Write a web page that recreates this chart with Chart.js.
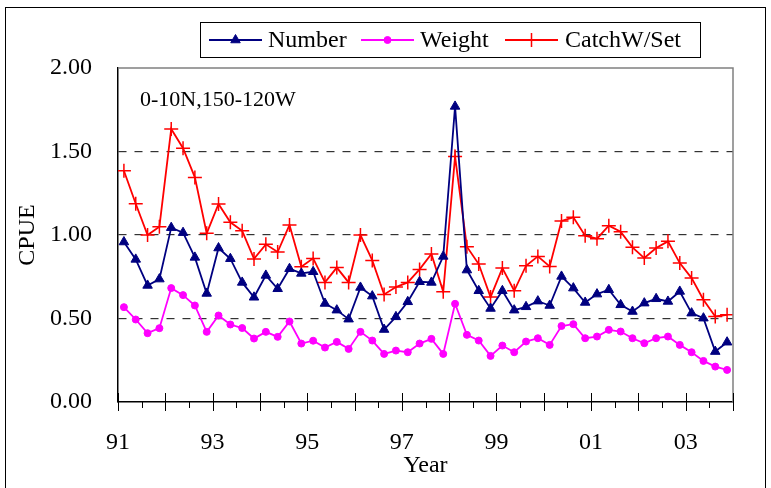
<!DOCTYPE html>
<html>
<head>
<meta charset="utf-8">
<script src="https://cdn.jsdelivr.net/npm/chart.js@4.4.1/dist/chart.umd.min.js"></script>
<style>
    html, body { margin: 0; padding: 0; background: #fff; }
    #wrap { width: 771px; height: 488px; position: relative; }
</style>
</head>
<body>
<div id="wrap"><canvas id="cpue-chart"></canvas></div>
<script>
// years on the axis, one point per quarter
const years = [91, 92, 93, 94, 95, 96, 97, 98, 99, 100, 101, 102, 103];
const quarterOffsets = [0.125, 0.375, 0.625, 0.875];
const yearLabels = ['91', '93', '95', '97', '99', '01', '03'];
const labelledYears = [91, 93, 95, 97, 99, 101, 103];
const yTicks = [0, 0.5, 1, 1.5, 2];

const numberCpue = [
    0.958, 0.854, 0.698, 0.736,  1.044, 1.014, 0.866, 0.650,  0.922, 0.858, 0.716, 0.627,
    0.758, 0.678, 0.798, 0.770,  0.780, 0.590, 0.550, 0.496,  0.686, 0.634, 0.434, 0.510,
    0.600, 0.720, 0.716, 0.872,  1.770, 0.790, 0.666, 0.560,  0.666, 0.550, 0.570, 0.604,
    0.578, 0.752, 0.682, 0.596,  0.646, 0.672, 0.582, 0.542,  0.592, 0.618, 0.602, 0.662,
    0.532, 0.502, 0.302, 0.358
];
const weightCpue = [
    0.568, 0.494, 0.412, 0.442,  0.682, 0.640, 0.578, 0.420,  0.518, 0.464, 0.443, 0.380,
    0.420, 0.390, 0.482, 0.350,  0.367, 0.326, 0.360, 0.318,  0.420, 0.368, 0.288, 0.308,
    0.298, 0.350, 0.378, 0.288,  0.588, 0.402, 0.368, 0.276,  0.338, 0.298, 0.362, 0.382,
    0.342, 0.455, 0.466, 0.382,  0.392, 0.432, 0.422, 0.382,  0.352, 0.382, 0.392, 0.342,
    0.298, 0.246, 0.212, 0.192
];
const catchPerSet = [
    1.385, 1.187, 1.000, 1.050,  1.635, 1.520, 1.345, 1.010,  1.186, 1.076, 1.025, 0.857,
    0.944, 0.898, 1.060, 0.810,  0.860, 0.716, 0.805, 0.716,  1.000, 0.848, 0.644, 0.688,
    0.716, 0.794, 0.886, 0.660,  1.470, 0.930, 0.826, 0.628,  0.802, 0.666, 0.816, 0.872,
    0.812, 1.084, 1.106, 0.996,  0.978, 1.056, 1.020, 0.926,  0.862, 0.922, 0.962, 0.832,
    0.742, 0.612, 0.512, 0.522
];

const colors = {
    'number': '#000080',
    'weight': '#FF00FF',
    'catch' : '#FF0000',
    'grid'  : '#333333',
    'frame' : '#808080'
};

const serif = "'Liberation Serif', 'Times New Roman', serif";

const quarterX = years.flatMap(y => quarterOffsets.map(q => y + q));
const toPoints = values => values.map((v, i) => ({ x: quarterX[i], y: v }));

// frame, plot border, x ticks, legend and area label
const decorations = {
    id: 'decorations',
    beforeDraw(chart) {
        const ctx = chart.ctx;
        ctx.save();
        ctx.strokeStyle = '#000';
        ctx.lineWidth = 1;
        ctx.strokeRect(5.5, 7.5, 760, 500);
        ctx.restore();
    },
    afterDraw(chart) {
        const ctx = chart.ctx;
        const area = chart.chartArea;
        const xs = chart.scales.x;
        const bottom = area.bottom;

        ctx.save();
        // grey top and right border of the plot area
        ctx.strokeStyle = colors['frame'];
        ctx.lineWidth = 1.5;
        ctx.beginPath();
        ctx.moveTo(area.left, area.top);
        ctx.lineTo(area.right, area.top);
        ctx.lineTo(area.right, area.bottom);
        ctx.stroke();

        // year ticks cross the axis, half-year ticks below
        ctx.strokeStyle = '#000';
        ctx.lineWidth = 1;
        for (let y = 91; y <= 104; y++) {
            const px = Math.round(xs.getPixelForValue(y)) + 0.5;
            ctx.beginPath();
            ctx.moveTo(px, bottom - 9);
            ctx.lineTo(px, bottom + 9);
            ctx.stroke();
            if (y < 104) {
                const mx = Math.round(xs.getPixelForValue(y + 0.5)) + 0.5;
                ctx.beginPath();
                ctx.moveTo(mx, bottom);
                ctx.lineTo(mx, bottom + 6);
                ctx.stroke();
            }
        }

        // area label
        ctx.fillStyle = '#000';
        ctx.font = '22px ' + serif;
        ctx.textBaseline = 'middle';
        ctx.textAlign = 'left';
        ctx.fillText('0-10N,150-120W', 140, 100);

        // legend box
        ctx.strokeStyle = '#000';
        ctx.lineWidth = 1;
        ctx.strokeRect(200.5, 22.5, 500, 35);

        const entries = [
            { line: 209, text: 268 },
            { line: 361, text: 420 },
            { line: 505, text: 565 }
        ];
        const ly = 40;
        ctx.font = '24px ' + serif;
        chart.data.datasets.forEach((ds, i) => {
            const e = entries[i];
            ctx.strokeStyle = ds.borderColor;
            ctx.lineWidth = ds.borderWidth;
            ctx.beginPath();
            ctx.moveTo(e.line, ly);
            ctx.lineTo(e.line + 53, ly);
            ctx.stroke();
            ctx.fillStyle = ds.pointBackgroundColor;
            ctx.strokeStyle = ds.pointBorderColor;
            ctx.lineWidth = ds.pointBorderWidth;
            Chart.helpers.drawPoint(ctx, {
                pointStyle: ds.pointStyle,
                radius: ds.pointRadius,
                rotation: 0,
                borderWidth: ds.pointBorderWidth
            }, e.line + 26.5, ly);
            ctx.fillStyle = '#000';
            ctx.fillText(ds.label, e.text, ly + 1);
        });
        ctx.restore();
    }
};

const cpueCtx = document.getElementById('cpue-chart');

new Chart(cpueCtx, {
    type: 'line',
    data: {
        datasets: [{
            label               : 'Number',
            data                : toPoints(numberCpue),
            borderColor         : colors['number'],
            borderWidth         : 1.8,
            pointStyle          : 'triangle',
            pointRadius         : 5.5,
            pointBackgroundColor: colors['number'],
            pointBorderColor    : colors['number'],
            pointBorderWidth    : 1
        }, {
            label               : 'Weight',
            data                : toPoints(weightCpue),
            borderColor         : colors['weight'],
            borderWidth         : 1.8,
            pointStyle          : 'circle',
            pointRadius         : 3.5,
            pointBackgroundColor: colors['weight'],
            pointBorderColor    : colors['weight'],
            pointBorderWidth    : 1
        }, {
            label               : 'CatchW/Set',
            data                : toPoints(catchPerSet),
            borderColor         : colors['catch'],
            borderWidth         : 1.8,
            pointStyle          : 'cross',
            pointRadius         : 7,
            pointBackgroundColor: colors['catch'],
            pointBorderColor    : colors['catch'],
            pointBorderWidth    : 1.5
        }]
    },
    options: {
        responsive: true,
        maintainAspectRatio: false,
        animation: false,
        layout: {
            padding: { left: 0, top: 68, right: 38, bottom: 0 }
        },
        plugins: {
            legend : { display: false },
            tooltip: { enabled: false }
        },
        scales: {
            x: {
                type: 'linear',
                min: 91,
                max: 104,
                afterFit: scale => { scale.height = 86; },
                afterBuildTicks: scale => {
                    scale.ticks = labelledYears.map(v => ({ value: v }));
                },
                ticks: {
                    autoSkip: false,
                    maxRotation: 0,
                    padding: 26,
                    color: '#000',
                    font: { family: serif, size: 24 },
                    callback: value => yearLabels[labelledYears.indexOf(value)]
                },
                grid: { drawOnChartArea: false, drawTicks: false },
                border: { color: '#000', width: 1.5 },
                title: {
                    display: true,
                    text: 'Year',
                    color: '#000',
                    font: { family: serif, size: 24, lineHeight: 1 },
                    padding: { top: 0, bottom: 10 }
                }
            },
            y: {
                min: 0,
                max: 2,
                afterFit: scale => { scale.width = 118; },
                afterBuildTicks: scale => {
                    scale.ticks = yTicks.map(v => ({ value: v }));
                },
                ticks: {
                    padding: 26,
                    color: '#000',
                    font: { family: serif, size: 24 },
                    callback: value => value.toFixed(2)
                },
                grid: {
                    drawTicks: false,
                    lineWidth: 1.2,
                    color: ctx => (ctx.tick && (ctx.tick.value === 0 || ctx.tick.value === 2))
                        ? 'rgba(0,0,0,0)' : colors['grid']
                },
                border: { color: '#000', width: 1.5, dash: [8, 8] },
                title: {
                    display: true,
                    text: 'CPUE',
                    color: '#000',
                    font: { family: serif, size: 24, lineHeight: 1 },
                    padding: { top: 16, bottom: 0 }
                }
            }
        }
    },
    plugins: [decorations]
});
</script>
</body>
</html>
